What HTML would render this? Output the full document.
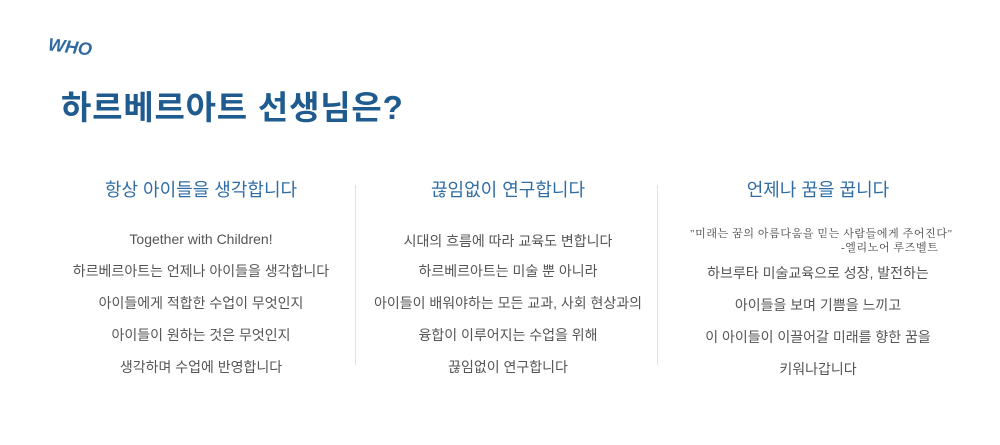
<!DOCTYPE html>
<html><head><meta charset="utf-8"><style>
body{margin:0;width:1000px;height:445px;background:#fff;position:relative;overflow:hidden;font-family:"Liberation Sans","Noto Sans CJK KR",sans-serif}
.a{position:absolute;white-space:nowrap}
.who{left:48px;top:37px;font-size:18px;font-weight:900;font-style:italic;color:#2e6aa2;transform:rotate(7deg);letter-spacing:0px}
.title{left:61px;top:81px;font-size:33px;font-weight:bold;color:#1f5b8e;letter-spacing:0.8px}
.col{position:absolute;top:0;width:300px;text-align:center}
.h{position:absolute;left:0;width:100%;top:176px;font-size:18px;color:#2f6ca4;text-align:center}
.l{position:absolute;left:0;width:100%;font-size:14px;color:#555;text-align:center}
.q{position:absolute;font-family:"Liberation Serif","Noto Serif CJK SC",serif;font-size:11px;color:#444;letter-spacing:0.6px}
.div{position:absolute;top:185px;width:1px;height:180px;background:#e2e2e2}
</style></head><body>
<div class="a who">WHO</div>
<div class="a title">하르베르아트 선생님은?</div>
<div class="div" style="left:355px"></div>
<div class="div" style="left:657px"></div>
<div class="col" style="left:51px">
<div class="h">항상 아이들을 생각합니다</div>
<div class="l" style="top:231px">Together with Children!</div>
<div class="l" style="top:261px">하르베르아트는 언제나 아이들을 생각합니다</div>
<div class="l" style="top:293px">아이들에게 적합한 수업이 무엇인지</div>
<div class="l" style="top:325px">아이들이 원하는 것은 무엇인지</div>
<div class="l" style="top:357px">생각하며 수업에 반영합니다</div>
</div>
<div class="col" style="left:358px">
<div class="h">끊임없이 연구합니다</div>
<div class="l" style="top:231px">시대의 흐름에 따라 교육도 변합니다</div>
<div class="l" style="top:261px">하르베르아트는 미술 뿐 아니라</div>
<div class="l" style="top:293px">아이들이 배워야하는 모든 교과, 사회 현상과의</div>
<div class="l" style="top:325px">융합이 이루어지는 수업을 위해</div>
<div class="l" style="top:357px">끊임없이 연구합니다</div>
</div>
<div class="col" style="left:668px">
<div class="h">언제나 꿈을 꿉니다</div>
<div class="q" style="left:22px;top:225px">"미래는 꿈의 아름다움을 믿는 사람들에게 주어진다"</div>
<div class="q" style="left:173px;top:239px">-엘리노어 루즈벨트</div>
<div class="l" style="top:263px">하브루타 미술교육으로 성장, 발전하는</div>
<div class="l" style="top:295px">아이들을 보며 기쁨을 느끼고</div>
<div class="l" style="top:327px">이 아이들이 이끌어갈 미래를 향한 꿈을</div>
<div class="l" style="top:359px">키워나갑니다</div>
</div>
</body></html>
